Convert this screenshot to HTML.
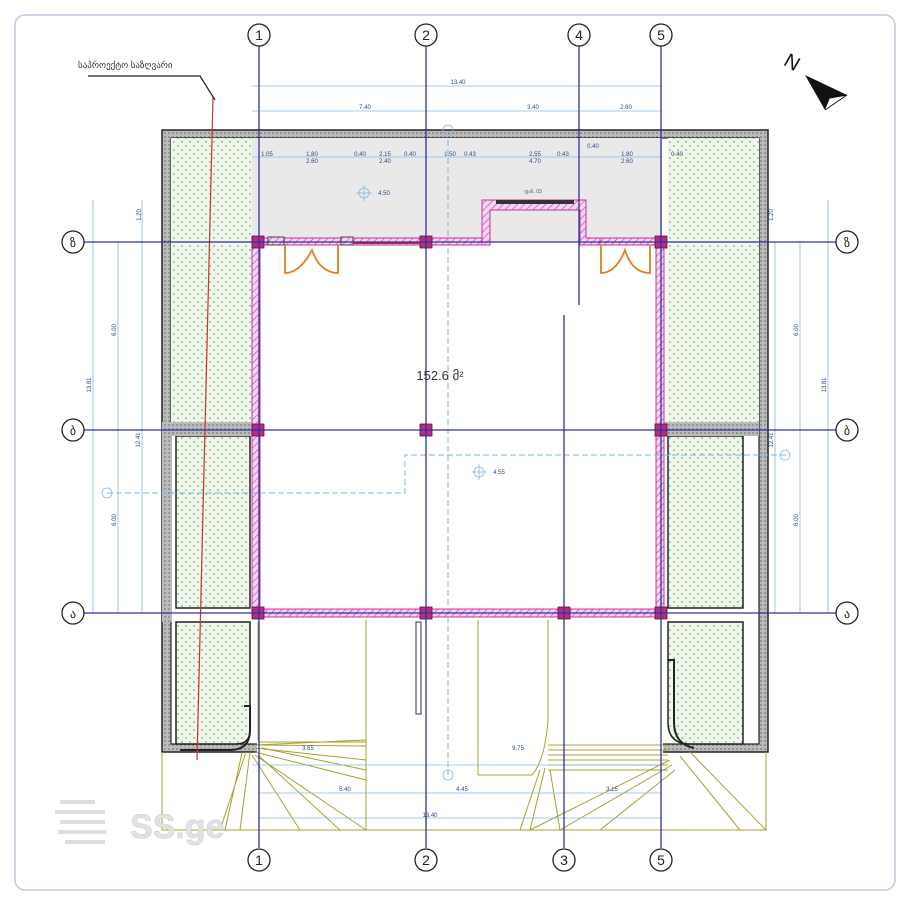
<!DOCTYPE html>
<html><head><meta charset="utf-8"><style>
html,body{margin:0;padding:0;background:#fff;}
svg{display:block}
text{font-family:"Liberation Sans",sans-serif}
</style></head><body>
<svg width="899" height="900" viewBox="0 0 899 900" xmlns="http://www.w3.org/2000/svg">
<defs>
<pattern id="dots" width="8" height="8" patternUnits="userSpaceOnUse">
<rect width="8" height="8" fill="#eef7ea"/><circle cx="2" cy="2" r="0.9" fill="#7fb07a"/><circle cx="6" cy="6" r="0.9" fill="#7fb07a"/>
</pattern>
<pattern id="hatch" width="4" height="4" patternUnits="userSpaceOnUse">
<rect width="4" height="4" fill="#bbb"/><circle cx="1" cy="1" r="0.8" fill="#666"/>
</pattern>
<pattern id="mag" width="5" height="5" patternUnits="userSpaceOnUse" patternTransform="rotate(45)">
<rect width="5" height="5" fill="#f4d4f0"/><line x1="0" y1="0" x2="0" y2="5" stroke="#b040b0" stroke-width="1.2"/>
</pattern>
</defs>
<rect x="15" y="15" width="880" height="875" rx="10" fill="none" stroke="#c9c6e0" stroke-width="1.5"/>

<!-- outer building shell -->
<rect x="162" y="130" width="606" height="622" fill="url(#hatch)" stroke="#222" stroke-width="1.5"/>
<rect x="171" y="138" width="588" height="606" fill="#fff" stroke="#222" stroke-width="1.2"/>
<rect x="257" y="616" width="406" height="140" fill="#fff"/>
<!-- top grey zone -->
<rect x="252" y="138" width="410" height="104" fill="#e9e9e9"/>
<!-- green panels -->
<rect x="171" y="138" width="81" height="284" fill="url(#dots)"/>
<rect x="668" y="138" width="91" height="284" fill="url(#dots)"/>
<rect x="162" y="422" width="10" height="200" fill="url(#hatch)"/>
<rect x="176" y="436" width="74" height="172" fill="url(#dots)" stroke="#222" stroke-width="1.5"/>
<rect x="668" y="436" width="75" height="172" fill="url(#dots)" stroke="#222" stroke-width="1.5"/>
<rect x="162" y="422" width="96" height="14" fill="url(#hatch)"/>
<rect x="660" y="422" width="99" height="14" fill="url(#hatch)"/>
<path d="M176 622 H250 V730 Q250 744 236 744 H176 Z" fill="url(#dots)" stroke="#222" stroke-width="1.5"/>
<path d="M668 622 H743 V744 H690 Q668 744 668 722 Z" fill="url(#dots)" stroke="#222" stroke-width="1.5"/>
<path d="M244 706 H250 V730 Q250 750 230 750 H180" fill="none" stroke="#222" stroke-width="2"/>
<path d="M668 660 H674 V722 Q674 744 694 748" fill="none" stroke="#222" stroke-width="2"/>

<!-- main room -->
<rect x="252" y="242" width="410" height="371" fill="#fff"/>
<rect x="252" y="238" width="230" height="7" fill="url(#mag)" stroke="#d0309a" stroke-width="1"/>
<rect x="582" y="238" width="80" height="7" fill="url(#mag)" stroke="#d0309a" stroke-width="1"/>
<rect x="252" y="242" width="8" height="375" fill="url(#mag)" stroke="#d0309a" stroke-width="1"/>
<rect x="656" y="242" width="8" height="375" fill="url(#mag)" stroke="#d0309a" stroke-width="1"/>
<rect x="252" y="609" width="412" height="8" fill="url(#mag)" stroke="#d0309a" stroke-width="1"/>
<!-- niche -->
<path d="M482 245 V200 H586 V238 H600 V245 H580 V210 H490 V245 Z" fill="url(#mag)" stroke="#d0309a" stroke-width="1"/>
<rect x="496" y="200" width="78" height="4" fill="#333"/>
<text x="533" y="193" font-size="5" fill="#555" text-anchor="middle">ფან. 03</text>
<!-- columns -->
<g fill="#b0307f" stroke="#700050" stroke-width="0.8">
<rect x="252" y="236" width="12" height="12"/><rect x="420" y="236" width="12" height="12"/><rect x="655" y="236" width="12" height="12"/>
<rect x="252" y="424" width="12" height="12"/><rect x="420" y="424" width="12" height="12"/><rect x="655" y="424" width="12" height="12"/>
<rect x="252" y="607" width="12" height="12"/><rect x="420" y="607" width="12" height="12"/><rect x="558" y="607" width="12" height="12"/><rect x="655" y="607" width="12" height="12"/>
</g>
<rect x="268" y="237" width="16" height="8" fill="url(#mag)" stroke="#444"/><rect x="341" y="237" width="12" height="8" fill="url(#mag)" stroke="#444"/>
<line x1="353" y1="243" x2="420" y2="243" stroke="#c03030" stroke-width="2"/>
<!-- doors -->
<g fill="none" stroke="#e08020" stroke-width="1.8">
<path d="M285 245 V273 Q300 273 312 250 Q320 273 338 273 V245"/>
<path d="M601 245 V273 Q616 273 625 250 Q632 273 650 273 V245"/>
</g>

<!-- dashed lines -->
<g stroke="#7fb5e0" stroke-width="1" stroke-dasharray="6,3" fill="none">
<line x1="448" y1="140" x2="448" y2="775"/>
<path d="M107 493 H405 V455 H790"/>
</g>

<!-- bottom exterior olive -->
<g stroke="#a8a030" stroke-width="1" fill="none">
<path d="M162 752 V830 H766 V752"/>
<line x1="366" y1="620" x2="366" y2="830"/>
<line x1="478" y1="620" x2="478" y2="775"/>
<path d="M478 775 H532 Q545 760 548 720 V620"/>
<line x1="258" y1="622" x2="258" y2="740"/>
</g>
<g stroke="#a8a030" stroke-width="1">
<path d="M255 745 L366 740 M255 748 L366 760 M255 752 L366 780 M255 755 L366 830 M250 752 L240 830 M246 752 L220 830 M242 753 L225 830"/>
<path d="M258 742 L366 742 M258 745 L366 746 M262 748 L366 770 M258 755 L340 830 M252 755 L300 830"/>
<path d="M548 745 L668 745 M548 750 L668 750 M548 755 L668 755 M548 760 L668 760 M548 765 L668 765 M548 770 L668 770"/>
<path d="M540 770 L520 830 M545 768 L530 830 M550 770 L560 830 M670 760 L530 830 M672 765 L560 830 M675 770 L600 830 M690 752 L766 830 M680 756 L740 830"/>
</g>
<rect x="416" y="622" width="5" height="92" fill="none" stroke="#333" stroke-width="1"/>

<!-- dimension lines -->
<g stroke="#8ab8de" stroke-width="0.8" fill="none">
<line x1="252" y1="86" x2="662" y2="86"/><line x1="252" y1="111" x2="662" y2="111"/>
<line x1="252" y1="157" x2="662" y2="157"/>
<line x1="93" y1="200" x2="93" y2="613"/><line x1="118" y1="242" x2="118" y2="613"/><line x1="142" y1="200" x2="142" y2="613"/>
<line x1="775" y1="242" x2="775" y2="613"/><line x1="800" y1="242" x2="800" y2="613"/><line x1="828" y1="200" x2="828" y2="613"/>
<line x1="252" y1="765" x2="662" y2="765"/><line x1="258" y1="793" x2="662" y2="793"/><line x1="258" y1="818" x2="662" y2="818"/>
<circle cx="364" cy="193" r="5"/><line x1="356" y1="193" x2="372" y2="193"/><line x1="364" y1="185" x2="364" y2="201"/>
<circle cx="479" cy="472" r="5"/><line x1="471" y1="472" x2="487" y2="472"/><line x1="479" y1="464" x2="479" y2="480"/>
<circle cx="448" cy="775" r="5"/><circle cx="448" cy="130" r="5"/><circle cx="785" cy="455" r="5"/><circle cx="107" cy="493" r="5"/>
</g>
<g font-size="6" fill="#2a4a8a" text-anchor="middle">
<text x="458" y="84">13.40</text><text x="365" y="109">7.40</text><text x="533" y="109">3.40</text><text x="626" y="109">2.60</text>
<text x="267" y="156">1.05</text><text x="312" y="156">1.80</text><text x="312" y="163">2.60</text><text x="360" y="156">0.40</text><text x="385" y="156">2.15</text><text x="385" y="163">2.40</text><text x="410" y="156">0.40</text><text x="450" y="156">1.50</text><text x="470" y="156">0.43</text><text x="535" y="156">2.55</text><text x="535" y="163">4.70</text><text x="563" y="156">0.43</text><text x="593" y="148">0.40</text><text x="627" y="156">1.80</text><text x="627" y="163">2.60</text><text x="677" y="156">0.40</text>
<text x="384" y="195">4.50</text><text x="499" y="474">4.55</text>
<text x="308" y="750">3.65</text><text x="518" y="750">9.75</text><text x="345" y="791">5.40</text><text x="462" y="791">4.45</text><text x="612" y="791">3.15</text><text x="430" y="817">13.40</text>
<text transform="translate(141,215) rotate(-90)">1.20</text><text transform="translate(116,330) rotate(-90)">6.00</text><text transform="translate(91,385) rotate(-90)">13.81</text><text transform="translate(140,440) rotate(-90)">12.41</text><text transform="translate(116,520) rotate(-90)">6.00</text>
<text transform="translate(773,215) rotate(-90)">1.20</text><text transform="translate(798,330) rotate(-90)">6.00</text><text transform="translate(826,385) rotate(-90)">13.81</text><text transform="translate(773,440) rotate(-90)">12.41</text><text transform="translate(798,520) rotate(-90)">6.00</text>
</g>

<!-- red line -->
<path d="M213 97 L197 760" stroke="#d03030" stroke-width="1.2" fill="none"/>
<path d="M88 76 H200 L215 100" stroke="#222" stroke-width="1.2" fill="none"/>
<text x="78" y="68" font-size="9" fill="#333" font-family="'Liberation Sans','DejaVu Sans',sans-serif">საპროექტო საზღვარი</text>

<!-- grid axes -->
<g stroke="#3030a0" stroke-width="1.3">
<line x1="259" y1="46" x2="259" y2="848"/><line x1="426" y1="46" x2="426" y2="848"/><line x1="661" y1="46" x2="661" y2="848"/>
<line x1="579" y1="46" x2="579" y2="305"/><line x1="564" y1="315" x2="564" y2="848"/>
<line x1="84" y1="242" x2="836" y2="242"/><line x1="84" y1="430" x2="836" y2="430"/><line x1="84" y1="613" x2="836" y2="613"/>
</g>
<g fill="#fff" stroke="#222" stroke-width="1.3">
<circle cx="259" cy="35" r="11"/><circle cx="426" cy="35" r="11"/><circle cx="579" cy="35" r="11"/><circle cx="661" cy="35" r="11"/>
<circle cx="259" cy="860" r="11"/><circle cx="426" cy="860" r="11"/><circle cx="564" cy="860" r="11"/><circle cx="661" cy="860" r="11"/>
<circle cx="73" cy="242" r="11"/><circle cx="73" cy="430" r="11"/><circle cx="73" cy="613" r="11"/>
<circle cx="847" cy="242" r="11"/><circle cx="847" cy="430" r="11"/><circle cx="847" cy="613" r="11"/>
</g>
<g font-size="14" fill="#222" text-anchor="middle">
<text x="259" y="40">1</text><text x="426" y="40">2</text><text x="579" y="40">4</text><text x="661" y="40">5</text>
<text x="259" y="865">1</text><text x="426" y="865">2</text><text x="564" y="865">3</text><text x="661" y="865">5</text>
<text x="73" y="247" font-family="'DejaVu Sans',sans-serif" font-size="12">ზ</text><text x="73" y="435" font-family="'DejaVu Sans',sans-serif" font-size="12">ბ</text><text x="73" y="618" font-family="'DejaVu Sans',sans-serif" font-size="12">ა</text>
<text x="847" y="247" font-family="'DejaVu Sans',sans-serif" font-size="12">ზ</text><text x="847" y="435" font-family="'DejaVu Sans',sans-serif" font-size="12">ბ</text><text x="847" y="618" font-family="'DejaVu Sans',sans-serif" font-size="12">ა</text>
</g>
<text x="440" y="380" font-size="13" fill="#333" text-anchor="middle" font-family="'Liberation Serif',serif">152.6 მ²</text>

<!-- north arrow -->
<text x="785" y="65" font-size="20" fill="#111" transform="rotate(30 785 60)">N</text>
<path d="M805 75 L847 95 L830 98 L825 110 Z" fill="#111"/>
<path d="M830 98 L847 95 L825 110" fill="#fff" stroke="#111"/>

<!-- watermark -->
<g fill="#ddd" opacity="0.9">
<rect x="60" y="800" width="35" height="4"/><rect x="55" y="810" width="50" height="4"/><rect x="60" y="820" width="45" height="4"/><rect x="58" y="830" width="48" height="4"/><rect x="65" y="840" width="40" height="4"/>
</g>
<text x="130" y="838" font-size="34" font-weight="bold" fill="#e2e2e2" stroke="#ccc" stroke-width="0.5">SS.ge</text>
</svg>
</body></html>
